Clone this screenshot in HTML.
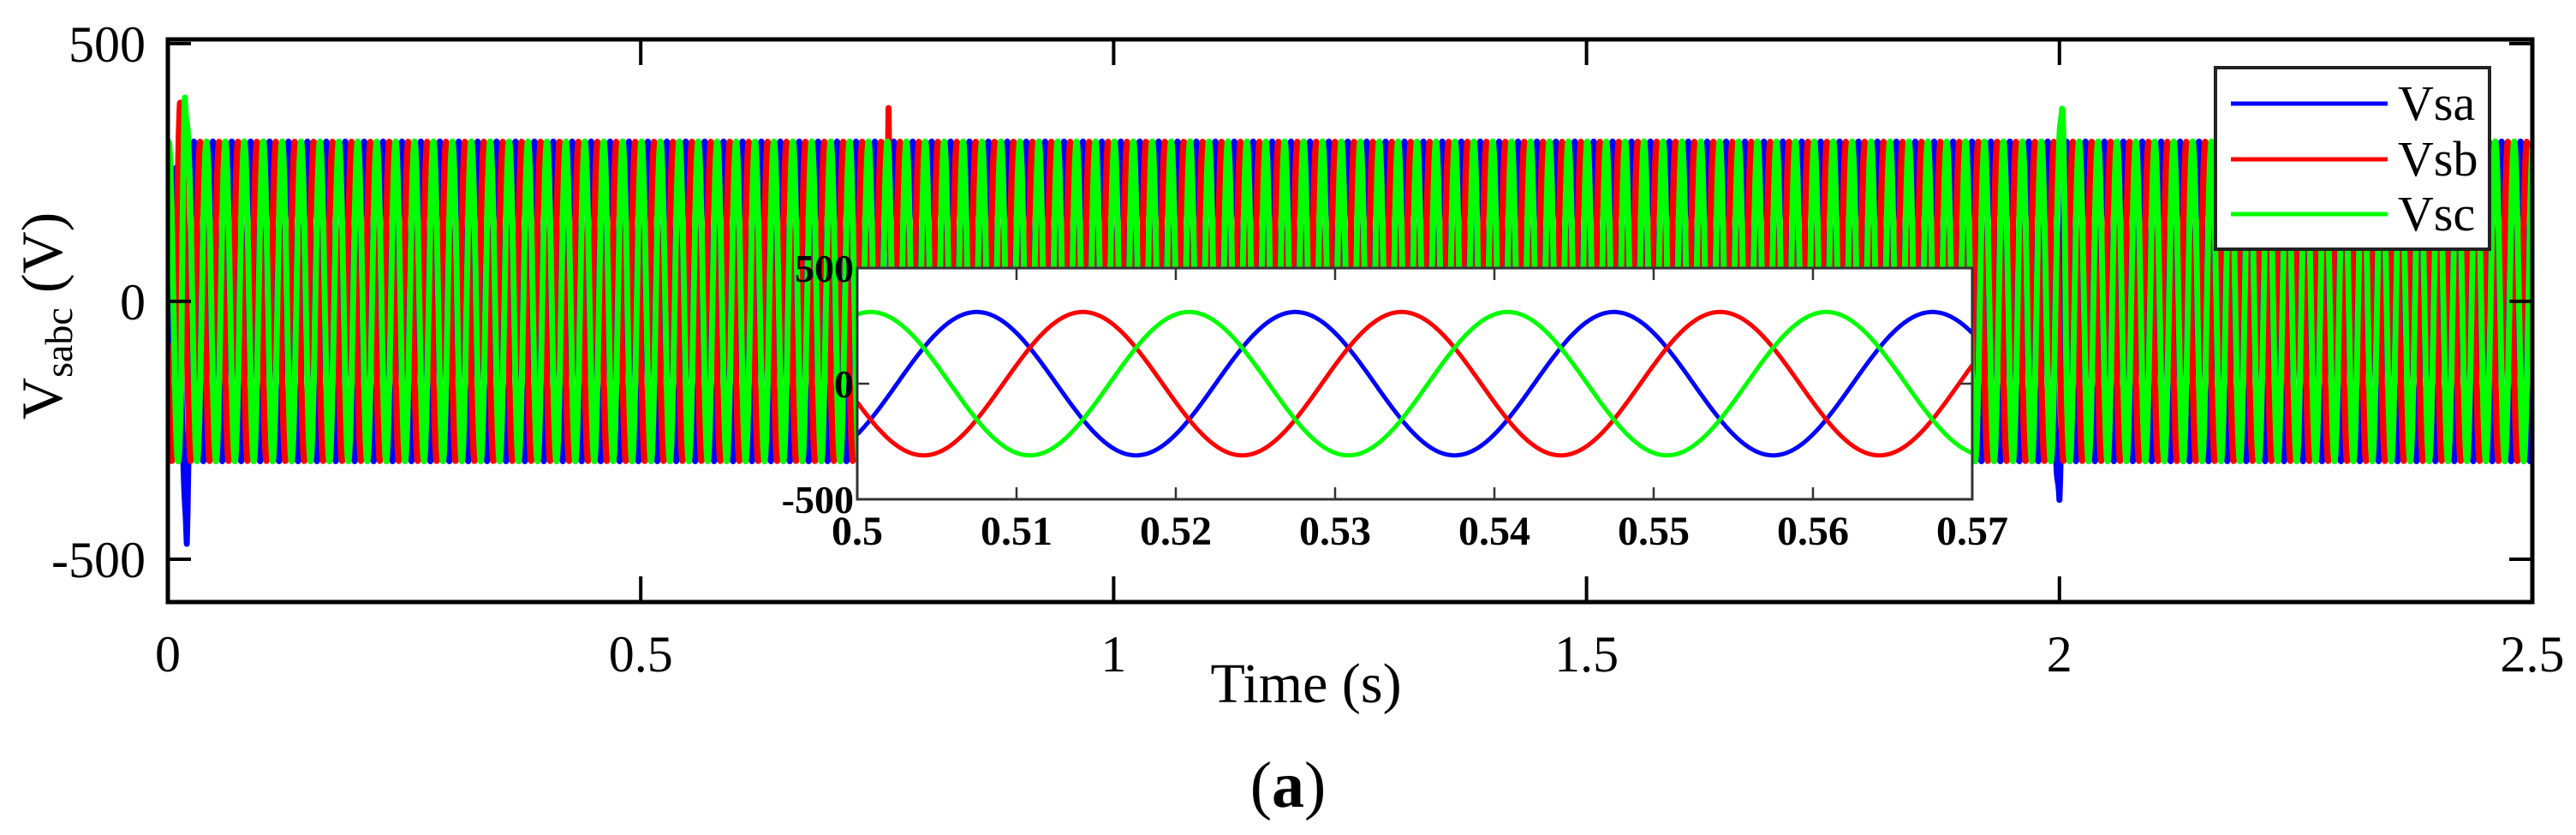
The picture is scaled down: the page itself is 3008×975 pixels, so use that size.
<!DOCTYPE html>
<html><head><meta charset="utf-8">
<style>
html,body{margin:0;padding:0;background:#fff;}
svg{display:block;}
text{font-family:"Liberation Serif",serif;fill:#000;}
</style></head>
<body>
<svg id="chart" width="3008" height="975" viewBox="0 0 3008 975" xmlns="http://www.w3.org/2000/svg">
<defs>
<clipPath id="mainClip"><rect x="196" y="46" width="2761" height="657"/></clipPath>
<clipPath id="insetClip"><rect x="1001" y="313" width="1302" height="270"/></clipPath>
</defs>
<rect x="0" y="0" width="3008" height="975" fill="#fff"/>
<g id="mainSeries" clip-path="url(#mainClip)"></g>
<g id="mainAxes"></g>
<g id="inset"></g>
<g id="legend"></g>
<text x="1525" y="820" font-size="66" text-anchor="middle">Time (s)</text>
<text x="1504" y="942" font-size="76" text-anchor="middle">(<tspan font-weight="bold">a</tspan>)</text>
<text transform="translate(72,490) rotate(-90)" font-size="68">V<tspan font-size="46" dy="12">sabc</tspan><tspan dy="-12"> (V)</tspan></text>
</svg>
<script>
// ---- data ----
const seriesNames = ["Vsa","Vsb","Vsc"];
const seriesColors = ["#0000ff","#ff0000","#00ff00"];
const amplitude = [310, 310, 310];           // V peak
const frequency = 50;                         // Hz
const phaseDelay = [0.0025, 0.0091667, -0.0041667]; // s
const eventSeries = [0, 0, 1, 2, 1, 2, 0];
const eventTimes  = [0.006, 0.02, 0.013, 0.018, 0.762, 2.003, 2.0];
const eventValues = [200, -470, 390, 395, 375, 380, -385];
const xTicksMain = [0, 0.5, 1, 1.5, 2, 2.5];
const xTickLabelsMain = ["0","0.5","1","1.5","2","2.5"];
const yTicksMain = [500, 0, -500];
const yTickLabelsMain = ["500","0","-500"];
const xTicksInset = [0.5,0.51,0.52,0.53,0.54,0.55,0.56,0.57];
const xTickLabelsInset = ["0.5","0.51","0.52","0.53","0.54","0.55","0.56","0.57"];
const yTicksInset = [500, 0, -500];
const yTickLabelsInset = ["500","0","-500"];

// ---- scales ----
const M = {x0:196, x1:2957, y0:46, y1:703, tMin:0, tMax:2.5, vMin:-583, vMax:508};
const I = {x0:1001, x1:2303, y0:313, y1:583, tMin:0.5, tMax:0.57, vMin:-500, vMax:500};
const sx = (A,t)=>A.x0+(t-A.tMin)/(A.tMax-A.tMin)*(A.x1-A.x0);
const sy = (A,v)=>A.y1-(v-A.vMin)/(A.vMax-A.vMin)*(A.y1-A.y0);
const NS="http://www.w3.org/2000/svg";
function mk(tag, attrs, parent){const e=document.createElementNS(NS,tag);for(const k in attrs)e.setAttribute(k,attrs[k]);parent.appendChild(e);return e;}

function value(s,t){
  let v = amplitude[s]*Math.sin(2*Math.PI*frequency*(t-phaseDelay[s]));
  for(let k=0;k<eventTimes.length;k++){
    if(eventSeries[k]!==s) continue;
    const d=Math.abs(t-eventTimes[k]);
    if(d<0.004){v = v + (eventValues[k]-v)*(1-d/0.004);}
  }
  return v;
}
function pathFor(A,s,step){
  let d="";
  for(let t=A.tMin;t<=A.tMax+1e-9;t+=step){
    d+=(d?"L":"M")+sx(A,t).toFixed(1)+","+sy(A,value(s,t)).toFixed(1);
  }
  return d;
}

// main series
const gm=document.getElementById("mainSeries");
for(let s=0;s<3;s++){
  const p=mk("path",{d:pathFor(M,s,0.0004),fill:"none",stroke:seriesColors[s],"stroke-width":7,"stroke-linejoin":"round"},gm);
  
  
}

// main axes
const ga=document.getElementById("mainAxes");
mk("rect",{x:M.x0,y:M.y0,width:M.x1-M.x0,height:M.y1-M.y0,fill:"none",stroke:"#000","stroke-width":5},ga);
xTicksMain.forEach((t,i)=>{
  const x=sx(M,t);
  mk("line",{x1:x,x2:x,y1:M.y1,y2:M.y1-30,stroke:"#000","stroke-width":4},ga);
  mk("line",{x1:x,x2:x,y1:M.y0,y2:M.y0+30,stroke:"#000","stroke-width":4},ga);
  const tx=mk("text",{x:x,y:784,"font-size":60,"text-anchor":"middle"},ga);
  tx.textContent=xTickLabelsMain[i];
  
  
});
yTicksMain.forEach((v,i)=>{
  const y=sy(M,v);
  mk("line",{x1:M.x0,x2:M.x0+27,y1:y,y2:y,stroke:"#000","stroke-width":4},ga);
  mk("line",{x1:M.x1,x2:M.x1-27,y1:y,y2:y,stroke:"#000","stroke-width":4},ga);
  const tx=mk("text",{x:170,y:y+21,"font-size":60,"text-anchor":"end"},ga);
  tx.textContent=yTickLabelsMain[i];
  
  
});

// inset
const gi=document.getElementById("inset");
mk("rect",{x:I.x0,y:I.y0,width:I.x1-I.x0,height:I.y1-I.y0,fill:"#fff"},gi);
const gic=mk("g",{"clip-path":"url(#insetClip)"},gi);
for(let s=0;s<3;s++){
  const p=mk("path",{d:pathFor(I,s,0.00005),fill:"none",stroke:seriesColors[s],"stroke-width":5},gic);
  
  
}
mk("rect",{x:I.x0,y:I.y0,width:I.x1-I.x0,height:I.y1-I.y0,fill:"none",stroke:"#333","stroke-width":3},gi);
xTicksInset.forEach((t,i)=>{
  const x=sx(I,t);
  mk("line",{x1:x,x2:x,y1:I.y1,y2:I.y1-14,stroke:"#333","stroke-width":2.5},gi);
  mk("line",{x1:x,x2:x,y1:I.y0,y2:I.y0+14,stroke:"#333","stroke-width":2.5},gi);
  const tx=mk("text",{x:x,y:636,"font-size":48,"font-weight":"bold","text-anchor":"middle"},gi);
  tx.textContent=xTickLabelsInset[i];
  
  
});
yTicksInset.forEach((v,i)=>{
  const y=sy(I,v);
  mk("line",{x1:I.x0,x2:I.x0+14,y1:y,y2:y,stroke:"#333","stroke-width":2.5},gi);
  mk("line",{x1:I.x1,x2:I.x1-14,y1:y,y2:y,stroke:"#333","stroke-width":2.5},gi);
  const tx=mk("text",{x:I.x0-4,y:y+16,"font-size":46,"font-weight":"bold","text-anchor":"end"},gi);
  tx.textContent=yTickLabelsInset[i];
  
  
});

// legend
const gl=document.getElementById("legend");
mk("rect",{x:2587,y:79,width:320,height:212,fill:"#fff",stroke:"#222","stroke-width":4},gl);
const legY=[121,186,250];
for(let s=0;s<3;s++){
  const e=mk("g",{},gl);
  
  
  mk("line",{x1:2605,x2:2788,y1:legY[s],y2:legY[s],stroke:seriesColors[s],"stroke-width":5},e);
  const tx=mk("text",{x:2800,y:legY[s]+19,"font-size":58},e);
  tx.textContent=seriesNames[s];
}
</script>
</body></html>
